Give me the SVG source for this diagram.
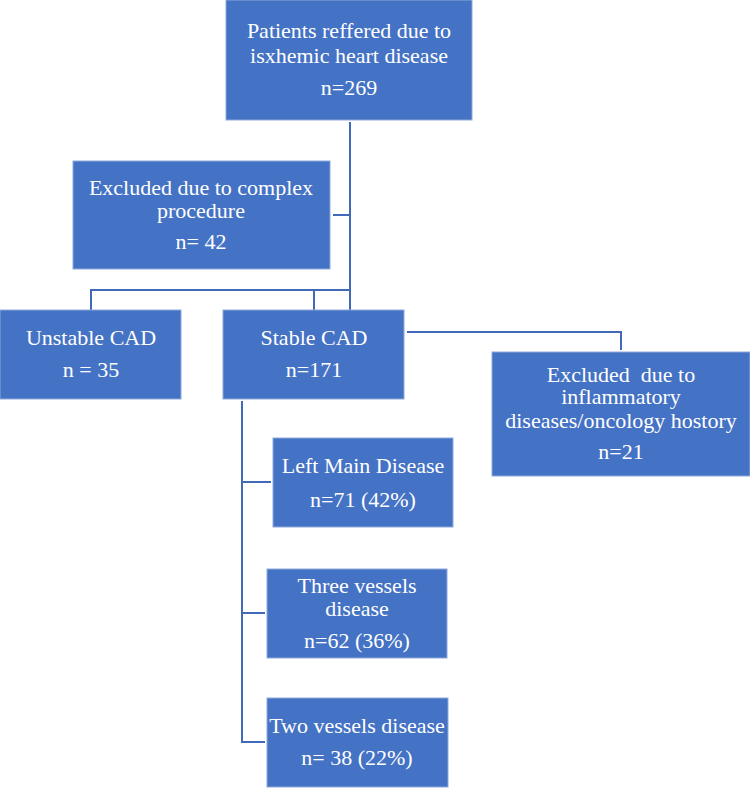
<svg xmlns="http://www.w3.org/2000/svg" width="750" height="788" viewBox="0 0 750 788">
<style>
.box{fill:#4472C4;stroke:#8EA9DB;stroke-width:1}
.t{font-family:"Liberation Serif","Times New Roman",serif;font-size:22px;fill:#ffffff;text-anchor:middle;white-space:pre}
.c{fill:none;stroke:#4169B8;stroke-width:2}
</style>
<rect width="750" height="788" fill="#ffffff"/>
<g id="connectors">
<path class="c" d="M350,122 V310"/>
<path class="c" d="M333,215 H350"/>
<path class="c" d="M91,310 V290 H350"/>
<path class="c" d="M314,290 V310"/>
<path class="c" d="M407,332 H621 V350"/>
<path class="c" d="M242,401 V742 H265"/>
<path class="c" d="M242,482 H271"/>
<path class="c" d="M242,613 H265"/>
</g>
<g id="patients">
<rect class="box" x="226" y="0" width="246" height="120"/>
<text class="t" x="349" y="38">Patients reffered due to</text>
<text class="t" x="349" y="63">isxhemic heart disease</text>
<text class="t" x="349" y="95">n=269</text>
</g>
<g id="excluded-complex">
<rect class="box" x="73" y="161" width="257" height="108"/>
<text class="t" x="201" y="195">Excluded due to complex</text>
<text class="t" x="201" y="218">procedure</text>
<text class="t" x="201" y="249">n= 42</text>
</g>
<g id="unstable">
<rect class="box" x="0" y="310" width="181" height="89"/>
<text class="t" x="91" y="345">Unstable CAD</text>
<text class="t" x="91" y="377">n = 35</text>
</g>
<g id="stable">
<rect class="box" x="223" y="310" width="181" height="89"/>
<text class="t" x="314" y="345">Stable CAD</text>
<text class="t" x="314" y="377">n=171</text>
</g>
<g id="excluded-inflammatory">
<rect class="box" x="492" y="352" width="258" height="124"/>
<text class="t" x="621" y="382">Excluded  due to</text>
<text class="t" x="621" y="404">inflammatory</text>
<text class="t" x="621" y="428">diseases/oncology hostory</text>
<text class="t" x="621" y="459">n=21</text>
</g>
<g id="left-main">
<rect class="box" x="273" y="438" width="180" height="89"/>
<text class="t" x="363" y="473">Left Main Disease</text>
<text class="t" x="363" y="507">n=71 (42%)</text>
</g>
<g id="three-vessels">
<rect class="box" x="267" y="569" width="180" height="89"/>
<text class="t" x="357" y="593">Three vessels</text>
<text class="t" x="357" y="616">disease</text>
<text class="t" x="357" y="648">n=62 (36%)</text>
</g>
<g id="two-vessels">
<rect class="box" x="267" y="698" width="181" height="89"/>
<text class="t" x="357" y="733">Two vessels disease</text>
<text class="t" x="357" y="765">n= 38 (22%)</text>
</g>
</svg>
